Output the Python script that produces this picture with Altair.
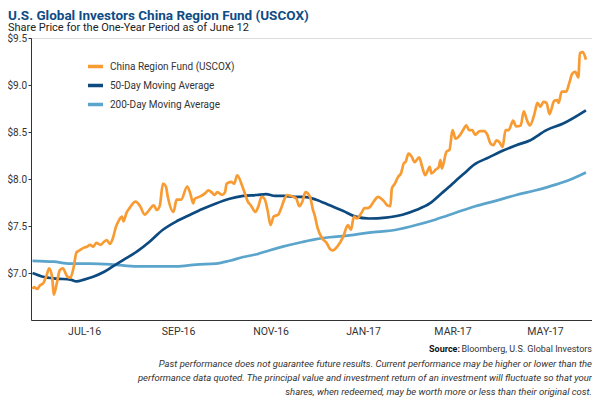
import altair as alt
import pandas as pd

START = pd.Timestamp("2016-06-12")

# Share price (USCOX): days after 2016-06-12, price in $
fund_days = [0, 1, 3, 5, 7, 9, 11, 13, 14, 16, 18, 20, 23, 25, 27, 29, 31, 34, 36, 38,
             40, 42, 45, 47, 49, 51, 53, 55, 57, 59, 60, 62, 64, 68, 71, 74, 76, 80, 82, 84,
             86, 88, 89, 93, 95, 98, 102, 104, 106, 107, 110, 114, 116, 118, 120, 122, 125, 127, 128, 131,
             133, 135, 138, 140, 142, 144, 147, 149, 151, 153, 155, 157, 159, 162, 164, 166, 168, 172, 174, 176,
             178, 180, 183, 185, 186, 188, 191, 194, 196, 198, 201, 205, 208, 210, 212, 214, 217, 219, 221, 223,
             225, 228, 230, 232, 234, 236, 237, 239, 241, 243, 245, 246, 248, 250, 252, 255, 257, 259, 262, 263,
             266, 268, 269, 270, 273, 275, 277, 279, 281, 284, 286, 288, 290, 292, 295, 298, 300, 302, 304, 306,
             308, 310, 312, 314, 317, 319, 322, 324, 326, 328, 331, 333, 335, 337, 339, 341, 344, 346, 347, 349,
             352, 354, 356, 358, 360, 361, 363, 365]
fund_vals = [6.83, 6.85, 6.83, 6.87, 6.89, 6.96, 7.05, 6.95, 6.77, 6.89, 7.03, 7.05, 6.96, 6.95, 7.05, 7.22, 7.24, 7.27, 7.28, 7.30,
             7.28, 7.32, 7.30, 7.33, 7.35, 7.31, 7.37, 7.49, 7.56, 7.60, 7.55, 7.64, 7.69, 7.76, 7.71, 7.62, 7.65, 7.72, 7.67, 7.72,
             7.95, 7.92, 7.83, 7.65, 7.78, 7.78, 7.92, 7.85, 7.74, 7.79, 7.81, 7.85, 7.88, 7.86, 7.83, 7.86, 7.83, 7.86, 7.95, 7.97,
             7.95, 8.04, 7.94, 7.85, 7.76, 7.72, 7.65, 7.71, 7.81, 7.79, 7.67, 7.51, 7.60, 7.62, 7.69, 7.78, 7.83, 7.81, 7.79, 7.71,
             7.76, 7.86, 7.81, 7.67, 7.62, 7.48, 7.37, 7.32, 7.26, 7.24, 7.28, 7.39, 7.51, 7.46, 7.60, 7.58, 7.64, 7.69, 7.69, 7.71,
             7.76, 7.81, 7.79, 7.76, 7.72, 7.71, 7.90, 7.95, 8.02, 8.06, 8.17, 8.18, 8.27, 8.24, 8.18, 8.23, 8.13, 8.04, 8.13, 8.06,
             8.10, 8.13, 8.20, 8.11, 8.29, 8.31, 8.52, 8.43, 8.45, 8.52, 8.57, 8.52, 8.52, 8.47, 8.51, 8.51, 8.47, 8.38, 8.36, 8.41,
             8.39, 8.34, 8.52, 8.52, 8.62, 8.56, 8.57, 8.72, 8.63, 8.57, 8.69, 8.81, 8.77, 8.82, 8.81, 8.69, 8.83, 8.84, 8.81, 8.93,
             8.93, 9.02, 9.12, 9.14, 9.08, 9.34, 9.35, 9.27]

ma50_days = [0, 7, 16, 25, 29, 34, 40, 47, 53, 60, 69, 77, 86, 95, 104, 112, 121, 130, 139, 148,
             154, 160, 166, 173, 179, 187, 196, 205, 213, 222, 233, 244, 253, 262, 270, 275, 279, 284, 292, 301,
             310, 319, 328, 339, 350, 365]
ma50_vals = [7.00, 6.96, 6.94, 6.93, 6.91, 6.93, 6.96, 7.01, 7.07, 7.14, 7.23, 7.33, 7.46, 7.55, 7.62, 7.68, 7.74, 7.79, 7.82, 7.83,
             7.84, 7.82, 7.82, 7.81, 7.81, 7.78, 7.72, 7.66, 7.60, 7.58, 7.59, 7.62, 7.67, 7.74, 7.85, 7.92, 7.98, 8.05, 8.16, 8.23,
             8.30, 8.36, 8.41, 8.52, 8.59, 8.73]

ma200_days = [0, 14, 25, 38, 53, 69, 80, 95, 108, 121, 130, 139, 148, 156, 165, 178, 187, 196, 209, 222,
              240, 253, 266, 279, 292, 306, 319, 332, 345, 354, 365]
ma200_vals = [7.13, 7.12, 7.10, 7.10, 7.09, 7.07, 7.07, 7.07, 7.09, 7.10, 7.13, 7.17, 7.20, 7.24, 7.28, 7.33, 7.36, 7.38, 7.40, 7.43,
              7.46, 7.51, 7.57, 7.64, 7.71, 7.77, 7.83, 7.88, 7.94, 7.99, 8.07]

SERIES = ["China Region Fund (USCOX)", "50-Day Moving Average", "200-Day Moving Average"]
COLORS = ["#F89B32", "#0C4A80", "#5BA4CB"]

Y_TICKS = [7.0, 7.5, 8.0, 8.5, 9.0, 9.5]
X_TICKS = [(2016, 7, 16), (2016, 9, 16), (2016, 11, 16), (2017, 1, 16), (2017, 3, 16), (2017, 5, 16)]

TITLE = "U.S. Global Investors China Region Fund (USCOX)"
SUBTITLE = "Share Price for the One-Year Period as of June 12"
SOURCE_BOLD = "Source:"
SOURCE = "Bloomberg, U.S. Global Investors"
NOTE = [
    "Past performance does not guarantee future results. Current performance may be higher or lower than the",
    "performance data quoted. The principal value and investment return of an investment will fluctuate so that your",
    "shares, when redeemed, may be worth more or less than their original cost.",
]

NARROW = "'Liberation Sans Narrow', 'Arial Narrow', Roboto, sans-serif"


def frame(days, vals, name, order):
    return pd.DataFrame({
        "date": [(START + pd.Timedelta(days=d)).strftime("%Y-%m-%d") for d in days],
        "price": vals,
        "series": name,
        "order": order,
    })


df = pd.concat([
    frame(ma200_days, ma200_vals, SERIES[2], 0),
    frame(ma50_days, ma50_vals, SERIES[1], 1),
    frame(fund_days, fund_vals, SERIES[0], 2),
], ignore_index=True)

W, H = 561, 282

lines = alt.Chart(df).mark_line(strokeWidth=2.7, interpolate="monotone").encode(
    x=alt.X("date:T",
            scale=alt.Scale(type="utc",
                            domain=[alt.DateTime(year=2016, month=6, date=11, utc=True),
                                    alt.DateTime(year=2017, month=6, date=16, utc=True)]),
            axis=alt.Axis(title=None, values=[alt.DateTime(year=a, month=b, date=c, utc=True) for a, b, c in X_TICKS],
                          labelExpr="upper(utcFormat(datum.value, '%b-%y'))",
                          ticks=False, grid=False, domainColor="#333333", domainWidth=1,
                          labelFont=NARROW, labelFontSize=10.5, labelColor="#333333", labelPadding=6)),
    y=alt.Y("price:Q",
            scale=alt.Scale(domain=[6.5, 9.5], nice=False, zero=False),
            axis=alt.Axis(title=None, values=Y_TICKS, labelExpr="'$' + format(datum.value, '.1f')",
                          grid=False, tickSize=3, tickColor="#333333", domainColor="#333333",
                          labelFont=NARROW, labelFontSize=10, labelColor="#333333", labelPadding=1.5)),
    color=alt.Color("series:N",
                    scale=alt.Scale(domain=SERIES, range=COLORS),
                    legend=alt.Legend(title=None, orient="none", legendX=55, legendY=19,
                                      symbolType="stroke", symbolStrokeWidth=3.5, symbolSize=225,
                                      labelFont=NARROW, labelFontSize=10, labelColor="#333333",
                                      labelOffset=5, rowPadding=2, padding=0)),
    order=alt.Order("order:Q"),
    detail="series:N",
)


def label(text, x, y, size, align="left", weight="normal", style="normal", color="#333333"):
    return alt.Chart(pd.DataFrame({"t": [text]})).mark_text(
        align=align, baseline="middle", font=NARROW, fontSize=size,
        fontWeight=weight, fontStyle=style, color=color,
    ).encode(text="t:N", x=alt.value(x), y=alt.value(y))


texts = [
    label(TITLE, -23, -22.5, 13.5, weight="bold", color="#0F4C85"),
    label(SUBTITLE, -23, -10, 11, color="#222222"),
    label(SOURCE, 561, 311, 9, align="right"),
    label(SOURCE_BOLD, 429, 311, 9, align="right", weight="bold", color="#111111"),
]
for i, line in enumerate(NOTE):
    texts.append(label(line, 561, 326 + 14 * i, 9.5, align="right", style="italic"))

chart = alt.layer(lines, *texts).properties(
    width=W, height=H,
    autosize=alt.AutoSizeParams(type="none"),
    padding={"left": 23, "top": 30, "right": 0, "bottom": 78},
).configure_view(stroke=None).configure(background="white")

chart.save("out.html", embed_options={"renderer": "svg", "actions": False})
